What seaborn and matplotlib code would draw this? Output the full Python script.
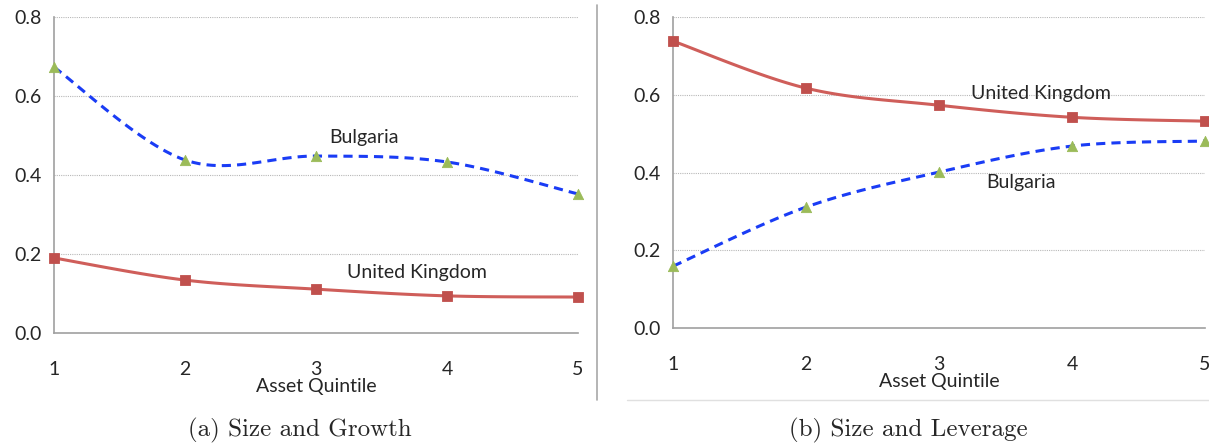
import numpy as np
import pandas as pd
import matplotlib
matplotlib.use("Agg")
import matplotlib.pyplot as plt
import seaborn as sns

# values
quintiles = [1, 2, 3, 4, 5]
growth_bulgaria = [0.673, 0.438, 0.448, 0.433, 0.352]
growth_uk = [0.190, 0.134, 0.111, 0.094, 0.091]
leverage_bulgaria = [0.159, 0.311, 0.401, 0.468, 0.481]
leverage_uk = [0.738, 0.617, 0.573, 0.542, 0.532]
yticks = [0.0, 0.2, 0.4, 0.6, 0.8]
captions = ["(a) Size and Growth", "(b) Size and Leverage"]

RED = "#C0504D"
BLUE = "#1A3CF5"
GREEN = "#9BBB59"

sns.set_style("white")
plt.rcParams['font.family'] = ['Lato', 'DejaVu Sans']


def smooth(x, y, n=30):
    # excel style smoothed line (catmull-rom bezier through the points)
    x = np.asarray(x, float)
    y = np.asarray(y, float)
    px = np.concatenate([[x[0]], x, [x[-1]]])
    py = np.concatenate([[y[0]], y, [y[-1]]])
    xs, ys = [], []
    for i in range(1, len(px) - 2):
        p0 = np.array([px[i], py[i]])
        p3 = np.array([px[i + 1], py[i + 1]])
        p1 = p0 + (np.array([px[i + 1], py[i + 1]]) - np.array([px[i - 1], py[i - 1]])) / 6
        p2 = p3 - (np.array([px[i + 2], py[i + 2]]) - np.array([px[i], py[i]])) / 6
        t = np.linspace(0, 1, n)[:, None]
        b = (1 - t) ** 3 * p0 + 3 * (1 - t) ** 2 * t * p1 + 3 * (1 - t) * t ** 2 * p2 + t ** 3 * p3
        xs.extend(b[:, 0])
        ys.extend(b[:, 1])
    return pd.DataFrame({"x": xs, "y": ys})


def panel(ax, bul, uk, bul_pos, uk_pos, xpad):
    s = smooth(quintiles, uk)
    sns.lineplot(data=s, x="x", y="y", ax=ax, color="#CF5E5A", lw=2.2, sort=False, clip_on=False)
    s = smooth(quintiles, bul)
    sns.lineplot(data=s, x="x", y="y", ax=ax, color=BLUE, lw=2.2, sort=False,
                 linestyle=(0, (3, 2)), clip_on=False)
    df = pd.DataFrame({"q": quintiles, "uk": uk, "bul": bul})
    sns.scatterplot(data=df, x="q", y="uk", ax=ax, marker="s", s=55, color=RED,
                    edgecolor=RED, clip_on=False, zorder=5)
    sns.scatterplot(data=df, x="q", y="bul", ax=ax, marker="^", s=55, color=GREEN,
                    edgecolor=GREEN, clip_on=False, zorder=5)
    ax.set_xlim(1, 5)
    ax.set_ylim(0, 0.8)
    ax.set_yticks(yticks)
    ax.set_yticklabels([f"{v:.1f}" for v in yticks], fontsize=14)
    ax.set_xticks(quintiles)
    ax.set_xticklabels([str(q) for q in quintiles], fontsize=14)
    ax.tick_params(axis="x", direction="inout", length=10, width=1, color="#A0A0A0", pad=xpad)
    ax.tick_params(axis="y", direction="out", length=5, width=1, color="#A0A0A0", pad=4)
    for v in yticks[1:]:
        ax.axhline(v, color="#B8B8B8", lw=0.8, ls=(0, (1, 1)), zorder=0)
    for sp in ["top", "right"]:
        ax.spines[sp].set_visible(False)
    for sp in ["left", "bottom"]:
        ax.spines[sp].set_color("#A0A0A0")
        ax.spines[sp].set_linewidth(1.2)
    ax.set_xlabel("Asset Quintile", fontsize=14, labelpad=0)
    ax.set_ylabel("")
    ax.text(bul_pos[0], bul_pos[1], "Bulgaria", fontsize=14, ha="center", va="center")
    ax.text(uk_pos[0], uk_pos[1], "United Kingdom", fontsize=14, ha="center", va="center")


fig = plt.figure(figsize=(12.09, 4.47), dpi=100)
ax1 = fig.add_axes([54 / 1209, 1 - 333 / 447, (578 - 54) / 1209, (333 - 17) / 447])
ax2 = fig.add_axes([673 / 1209, 1 - 328 / 447, (1205 - 673) / 1209, (328 - 17) / 447])

panel(ax1, growth_bulgaria, growth_uk, (3.37, 0.494), (3.77, 0.152), 15)
panel(ax2, leverage_bulgaria, leverage_uk, (3.62, 0.373), (3.77, 0.602), 15)

# separator and rule lines like the source layout
fig.add_artist(plt.Line2D([597 / 1209, 597 / 1209], [1 - 5 / 447, 1 - 400 / 447],
                          color="#A8A8A8", lw=1.2))
fig.add_artist(plt.Line2D([627 / 1209, 1], [1 - 400 / 447, 1 - 400 / 447],
                          color="#E0E0E0", lw=1.0))

fig.text(300 / 1209, 1 - 430 / 447, captions[0], family="cmr10", fontsize=18,
         ha="center", va="center")
fig.text(908 / 1209, 1 - 430 / 447, captions[1], family="cmr10", fontsize=18,
         ha="center", va="center")

fig.savefig("out.png", dpi=100)
